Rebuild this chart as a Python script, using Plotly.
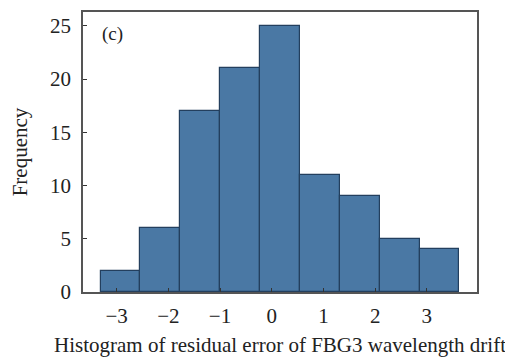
import plotly.graph_objects as go

bin_start = -3.31
bin_width = 0.771
counts = [2, 6, 17, 21, 25, 11, 9, 5, 4]
x_ticks = [-3, -2, -1, 0, 1, 2, 3]
x_tick_labels = ["\u22123", "\u22122", "\u22121", "0", "1", "2", "3"]
y_ticks = [0, 5, 10, 15, 20, 25]

centers = [bin_start + bin_width * (i + 0.5) for i in range(len(counts))]

fig = go.Figure(go.Bar(
    x=centers, y=counts, width=[bin_width] * len(counts),
    marker=dict(color="#4a78a4", line=dict(color="#233f5e", width=1.2)),
    showlegend=False,
))

font = "Liberation Serif, Times New Roman, serif"
# page body has an 8px margin, so the figure is sized/offset to compensate
fig.update_layout(
    width=505, height=349,
    margin=dict(l=75, r=36, t=4, b=65),
    paper_bgcolor="white", plot_bgcolor="white",
    font=dict(family=font, size=21, color="#222"),
    bargap=0,
    annotations=[dict(text="(c)", x=-3.33, y=24.2, xref="x", yref="y",
                      xanchor="left", yanchor="middle", showarrow=False,
                      font=dict(family=font, size=19, color="#222"))],
)
fig.update_xaxes(
    range=[-3.65, 3.97], tickvals=x_ticks, ticktext=x_tick_labels,
    ticks="inside", ticklen=4, tickcolor="#333",
    showline=True, linecolor="#555", linewidth=1.5, mirror=True,
    showgrid=False, zeroline=False, automargin=False,
    ticklabelstandoff=4,
    title=dict(text="Histogram of residual error of FBG3 wavelength drift",
               font=dict(size=21), standoff=15),
    tickfont=dict(size=21),
)
fig.update_yaxes(
    range=[0, 26.3], tickvals=y_ticks,
    ticks="inside", ticklen=4, tickcolor="#333",
    showline=True, linecolor="#555", linewidth=1.5, mirror=True,
    showgrid=False, zeroline=False, automargin=False,
    ticklabelstandoff=6,
    title=dict(text="Frequency", font=dict(size=21), standoff=19),
    tickfont=dict(size=21),
)
fig.write_html("out.html")
